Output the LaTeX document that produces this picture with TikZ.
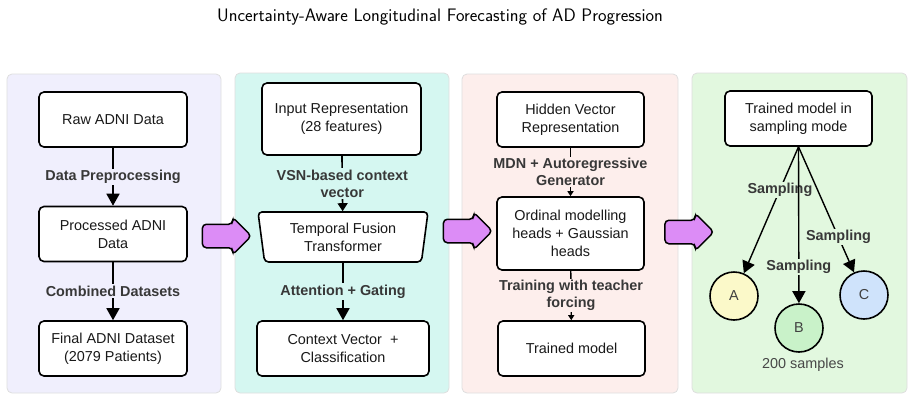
\documentclass[tikz,border=0pt]{standalone}
\usepackage{fontspec}
\setmainfont{Liberation Sans}
\usetikzlibrary{arrows.meta,shapes.geometric,shapes.arrows}
\definecolor{panelA}{HTML}{F0EFFD}
\definecolor{panelB}{HTML}{D5F7F1}
\definecolor{panelC}{HTML}{FDEEEC}
\definecolor{panelD}{HTML}{E2F8DF}
\definecolor{flowpurple}{HTML}{DC8CF6}
\definecolor{sampA}{HTML}{FBF9C9}
\definecolor{sampB}{HTML}{C9F2C9}
\definecolor{sampC}{HTML}{CFE3FB}
\tikzset{
  panel/.style={draw=black!13, rounded corners=5pt, line width=0.8pt},
  box/.style={draw=black, fill=white, rounded corners=5pt, align=center, line width=1.6pt, minimum width=148pt, minimum height=55pt, inner sep=3pt, font=\fontsize{14.4}{18}\selectfont, text=black!90},
  lbl/.style={font=\bfseries\fontsize{14.4}{17}\selectfont, text=black!78, align=center, inner sep=1.5pt},
  arrow/.style={-{Triangle[length=12pt,width=13pt]}, line width=1.6pt},
  midarrow/.style={-{Triangle[length=8pt,width=10pt]}, line width=1.6pt},
  thinarrow/.style={-{Triangle[length=5pt,width=6pt]}, line width=1.3pt},
  flowarrow/.style={single arrow, draw=black, fill=flowpurple, line width=1.5pt, rounded corners=4pt, minimum height=49pt, single arrow head extend=7pt, inner ysep=11pt, inner xsep=0pt},
  sample/.style={circle, draw=black, line width=1.6pt, minimum size=48pt, inner sep=0pt, font=\fontsize{14.4}{17}\selectfont, text=black!75}
}
\begin{document}
\begin{tikzpicture}[x=1pt,y=-1pt]
\useasboundingbox (0,0) rectangle (913,400);
\node[font=\sffamily\fontsize{18.1}{21}\selectfont] (title) at (440,17) {Uncertainty-Aware Longitudinal Forecasting of AD Progression};

% panels
\path[panel, fill=panelA] (7,74) rectangle (221,393);
\path[panel, fill=panelB] (235,73) rectangle (449,393);
\path[panel, fill=panelC] (462,74) rectangle (678,393);
\path[panel, fill=panelD] (692,73) rectangle (907,393);

% data
\node[box] (raw) at (113,119.5) {Raw ADNI Data};
\node[box] (proc) at (113,234) {Processed ADNI\\Data};
\node[box] (final) at (113,348.5) {Final ADNI Dataset\\(2079 Patients)};
\draw[arrow] (raw) -- node[lbl, fill=panelA] {Data Preprocessing} (proc);
\draw[arrow] (proc) -- node[lbl, fill=panelA] {Combined Datasets} (final);

% model
\node[box, minimum width=159pt, minimum height=72pt] (input) at (341.5,119) {Input Representation\\(28 features)};
\node[trapezium, draw=black, fill=white, line width=1.6pt, rounded corners=4pt, shape border rotate=180, trapezium left angle=77, trapezium right angle=77, trapezium stretches body, minimum width=170pt, minimum height=50pt, inner sep=0pt, align=center, font=\fontsize{14.4}{18}\selectfont, text=black!90] (tft) at (343,237) {Temporal Fusion\\Transformer};
\node[box, minimum width=172pt] (ctx) at (343,348.5) {Context Vector~ +\\Classification};
\draw[midarrow] (input) -- node[lbl, fill=panelB] {VSN-based context\\vector} (tft);
\draw[arrow] (tft) -- node[lbl, fill=panelB] {Attention + Gating} (ctx);

% training
\node[box, minimum width=147pt] (hidden) at (570.5,119.5) {Hidden Vector\\Representation};
\node[box, minimum width=147pt, minimum height=73pt] (heads) at (570.5,233.5) {Ordinal modelling\\heads + Gaussian\\heads};
\node[box, minimum width=147pt] (trained) at (571.5,348.5) {Trained model};
\draw[thinarrow] (hidden) -- node[lbl, fill=panelC] {MDN + Autoregressive\\Generator} (heads);
\draw[thinarrow] (heads) -- node[lbl, fill=panelC] {Training with teacher\\forcing} (trained);

% sampling
\node[box, minimum width=147pt] (sampler) at (798.5,118.5) {Trained model in\\sampling mode};
\node[sample, fill=sampA] (sa) at (734,296) {A};
\node[sample, fill=sampB] (sb) at (799,328) {B};
\node[sample, fill=sampC] (sc) at (864,295) {C};
\node[font=\fontsize{14.4}{17}\selectfont, text=black!72] (count) at (803,365) {200 samples};
\draw[arrow, line width=1.4pt] (sampler.south) -- node[lbl, fill=panelD, pos=0.34] {Sampling} (sa);
\draw[arrow, line width=1.4pt] (sampler.south) -- node[lbl, fill=panelD, pos=0.77] {Sampling} (sb);
\draw[arrow, line width=1.4pt] (sampler.south) -- node[lbl, fill=panelD, pos=0.72] {Sampling} (sc);

% flow between stages
\node[flowarrow] (flow1) at (221,236) {};
\node[flowarrow] (flow2) at (462,231) {};
\node[flowarrow] (flow3) at (683.5,232) {};
\end{tikzpicture}
\end{document}
